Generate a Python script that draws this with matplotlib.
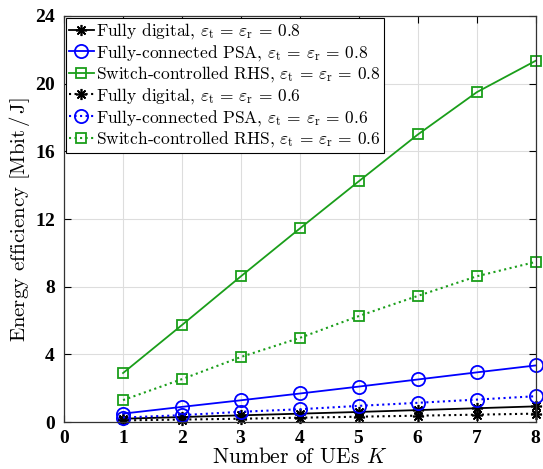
import matplotlib
matplotlib.use('Agg')
import matplotlib.pyplot as plt

# number of UEs
K = [1, 2, 3, 4, 5, 6, 7, 8]

# energy efficiency [Mbit/J], eps = 0.8
ee_digital_08 = [0.20, 0.30, 0.40, 0.50, 0.60, 0.71, 0.82, 0.93]
ee_psa_08 = [0.50, 0.90, 1.29, 1.69, 2.10, 2.52, 2.94, 3.35]
ee_rhs_08 = [2.90, 5.74, 8.62, 11.45, 14.24, 17.00, 19.50, 21.36]

# eps = 0.6
ee_digital_06 = [0.10, 0.15, 0.20, 0.26, 0.32, 0.38, 0.44, 0.50]
ee_psa_06 = [0.27, 0.41, 0.61, 0.76, 0.96, 1.14, 1.33, 1.53]
ee_rhs_06 = [1.30, 2.54, 3.85, 4.98, 6.27, 7.46, 8.62, 9.47]

eps = r'$\varepsilon_{\rm t}\,=\,\varepsilon_{\rm r}\,=\,%s$'
labels = ['Fully digital, ' + eps % '0.8',
          'Fully-connected PSA, ' + eps % '0.8',
          'Switch-controlled RHS, ' + eps % '0.8',
          'Fully digital, ' + eps % '0.6',
          'Fully-connected PSA, ' + eps % '0.6',
          'Switch-controlled RHS, ' + eps % '0.6']

plt.rcParams['mathtext.fontset'] = 'cm'
plt.rcParams['axes.formatter.use_mathtext'] = True

green = (0.1, 0.62, 0.1)
star = (8, 2, 0)  # matlab-like asterisk

fig = plt.figure(figsize=(5.43, 4.69), dpi=100)
ax = fig.add_axes([0.118, 0.100, 0.869, 0.866])

ax.plot(K, ee_digital_08, '-', color='k', marker=star, ms=8, mew=1.2, lw=1.3, label=labels[0], clip_on=False)
ax.plot(K, ee_psa_08, '-', color='b', marker='o', ms=9.5, mfc='none', mew=1.3, lw=1.3, label=labels[1], clip_on=False)
ax.plot(K, ee_rhs_08, '-', color=green, marker='s', ms=7, mfc='none', mew=1.3, lw=1.3, label=labels[2], clip_on=False)
ax.plot(K, ee_digital_06, ':', color='k', marker=star, ms=8, mew=1.2, lw=1.5, label=labels[3], clip_on=False)
ax.plot(K, ee_psa_06, ':', color='b', marker='o', ms=9.5, mfc='none', mew=1.3, lw=1.5, label=labels[4], clip_on=False)
ax.plot(K, ee_rhs_06, ':', color=green, marker='s', ms=7, mfc='none', mew=1.3, lw=1.5, label=labels[5], clip_on=False)

ax.set_xlim(0, 8)
ax.set_ylim(0, 24)
ax.set_xticks(range(0, 9))
ax.set_yticks(range(0, 25, 4))
ax.grid(True, color='#dddddd', lw=0.8)
ax.set_axisbelow(True)
ax.tick_params(direction='in', top=True, right=True, length=5, width=0.8, pad=6)
for lab in ax.get_xticklabels() + ax.get_yticklabels():
    lab.set_fontfamily('Liberation Serif')
    lab.set_fontweight('bold')
    lab.set_fontsize(14)
for sp in ax.spines.values():
    sp.set_color('#333333')
    sp.set_linewidth(0.9)

ax.set_xlabel(r'Number of UEs $K$', family='cmr10', fontsize=15.5, labelpad=0)
ax.set_ylabel(r'Energy efficiency [Mbit$\,/\,$J]', family='cmr10', fontsize=15, labelpad=2)

leg = ax.legend(loc='upper left', prop={'family': 'cmr10', 'size': 12.5},
                handlelength=1.4, handletextpad=0.15, labelspacing=0.1,
                borderpad=0.2, borderaxespad=0.1, fancybox=False, framealpha=1)
leg.get_frame().set_edgecolor('k')
leg.get_frame().set_linewidth(0.8)

fig.savefig('out.png', dpi=100)
